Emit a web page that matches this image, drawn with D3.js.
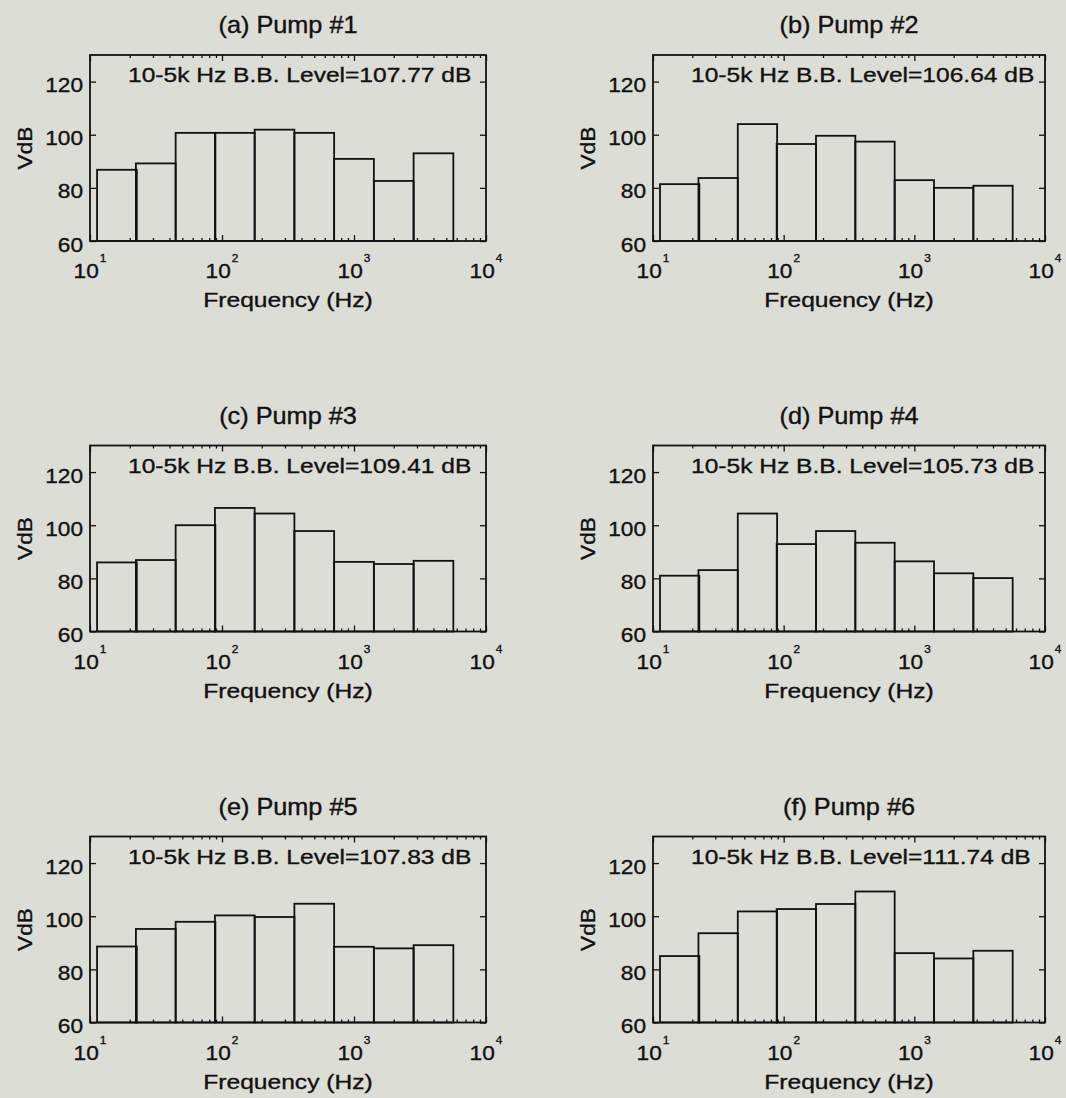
<!DOCTYPE html>
<html><head><meta charset="utf-8">
<script src="https://cdn.jsdelivr.net/npm/d3@7"></script>
<style>
html,body{margin:0;padding:0;background:#dcddd5;}
svg{display:block}
text{fill:#111;stroke:#111;stroke-width:0.35px;font-family:'Liberation Sans',Arial,Helvetica,sans-serif;}
</style>
</head><body>
<svg id="c" width="1066" height="1098"></svg>
<script>
// ---- data ----
const bandCenters = [16, 31.5, 63, 125, 250, 500, 1000, 2000, 4000]; // octave band centres (Hz)
const panelTitles = ["(a) Pump #1", "(b) Pump #2", "(c) Pump #3", "(d) Pump #4", "(e) Pump #5", "(f) Pump #6"];
const bbLevels = [107.77, 106.64, 109.41, 105.73, 107.83, 111.74];
const pump1 = [86.8, 89.2, 100.7, 100.7, 101.9, 100.7, 90.9, 82.6, 93.0];
const pump2 = [81.4, 83.7, 104.0, 96.5, 99.6, 97.4, 82.9, 80.0, 80.8];
const pump3 = [86.0, 86.9, 100.0, 106.5, 104.4, 97.8, 86.2, 85.4, 86.6];
const pump4 = [81.0, 83.1, 104.4, 92.9, 97.8, 93.4, 86.4, 81.9, 80.1];
const pump5 = [88.6, 95.2, 97.9, 100.3, 99.7, 104.7, 88.5, 87.9, 89.1];
const pump6 = [85.0, 93.6, 101.8, 102.7, 104.6, 109.3, 86.1, 84.1, 87.0];
const yTicks = [60, 80, 100, 120];
const xTicks = [10, 100, 1000, 10000];
const yDomain = [60, 130];
const xDomain = [10, 10000];
const xLabel = "Frequency (Hz)";
const yLabel = "VdB";

const panels = [pump1, pump2, pump3, pump4, pump5, pump6];

// ---- layout ----
const svg = d3.select("#c");
const cols = [{x0: 90, w: 396}, {x0: 653, w: 392}];
const rows = [55, 445.5, 836.5];
const H = 186;
const INK = "#111";

function txt(parent, x, y, str, size, sx, anchor, rot) {
  return parent.append("text")
    .attr("transform", `translate(${x},${y})${rot ? ` rotate(${rot})` : ""} scale(${sx},1)`)
    .attr("text-anchor", anchor)
    .style("font-size", size + "px")
    .text(str);
}

panels.forEach((vals, i) => {
  const c = cols[i % 2];
  const top = rows[Math.floor(i / 2)];
  const bottom = top + H;
  const x = d3.scaleLog().domain(xDomain).range([c.x0, c.x0 + c.w]);
  const y = d3.scaleLinear().domain(yDomain).range([bottom, top]);
  const g = svg.append("g");

  // bars (octave bands)
  g.selectAll("rect.bar").data(vals).join("rect")
    .attr("class", "bar")
    .attr("x", (d, j) => x(bandCenters[j] / Math.SQRT2))
    .attr("width", (d, j) => x(bandCenters[j] * Math.SQRT2) - x(bandCenters[j] / Math.SQRT2))
    .attr("y", d => y(d))
    .attr("height", d => y(yDomain[0]) - y(d))
    .attr("fill", "none")
    .attr("stroke", INK)
    .attr("stroke-width", 1.8);

  // ticks (inward, on all four sides)
  const minor = x.ticks().filter(t => !xTicks.includes(t));
  const styleAxis = sel => {
    sel.select(".domain").remove();
    sel.selectAll("line").attr("stroke", INK).attr("stroke-width", 1.3);
  };
  g.append("g").attr("transform", `translate(0,${bottom})`)
    .call(d3.axisBottom(x).tickValues(xTicks).tickSize(-6).tickSizeOuter(0).tickFormat("")).call(styleAxis);
  g.append("g").attr("transform", `translate(0,${bottom})`)
    .call(d3.axisBottom(x).tickValues(minor).tickSize(-3).tickSizeOuter(0).tickFormat("")).call(styleAxis);
  g.append("g").attr("transform", `translate(0,${top})`)
    .call(d3.axisTop(x).tickValues(xTicks).tickSize(-6).tickSizeOuter(0).tickFormat("")).call(styleAxis);
  g.append("g").attr("transform", `translate(0,${top})`)
    .call(d3.axisTop(x).tickValues(minor).tickSize(-3).tickSizeOuter(0).tickFormat("")).call(styleAxis);
  g.append("g").attr("transform", `translate(${c.x0},0)`)
    .call(d3.axisLeft(y).tickValues(yTicks).tickSize(-6).tickSizeOuter(0).tickFormat("")).call(styleAxis);
  g.append("g").attr("transform", `translate(${c.x0 + c.w},0)`)
    .call(d3.axisRight(y).tickValues(yTicks).tickSize(-6).tickSizeOuter(0).tickFormat("")).call(styleAxis);

  // frame
  g.append("rect")
    .attr("x", c.x0).attr("y", top).attr("width", c.w).attr("height", H)
    .attr("fill", "none").attr("stroke", INK).attr("stroke-width", 1.8);

  // y tick labels
  yTicks.forEach(v => txt(g, c.x0 - 7, y(v) + 10.5, String(v), 21, 1.08, "end"));

  // x tick labels 10^n
  xTicks.forEach(v => {
    const t = g.append("text")
      .attr("transform", `translate(${x(v)},${bottom + 37}) scale(1.08,1)`)
      .attr("text-anchor", "middle")
      .style("font-size", "21px");
    t.append("tspan").text("10");
    t.append("tspan").attr("dx", 1).attr("dy", -16).style("font-size", "11px").text(Math.round(Math.log10(v)));
  });

  // labels
  txt(g, (x.range()[0] + x.range()[1]) / 2, bottom + 66, xLabel, 20.5, 1.2, "middle");
  txt(g, c.x0 - 58, (top + bottom) / 2, yLabel, 21, 1.08, "middle", -90);
  txt(g, (x.range()[0] + x.range()[1]) / 2, top - 22, panelTitles[i], 23, 1.1, "middle");
  txt(g, c.x0 + 38, top + 27, `10-5k Hz B.B. Level=${bbLevels[i].toFixed(2)} dB`, 21, 1.17, "start");
});
</script>
</body></html>
